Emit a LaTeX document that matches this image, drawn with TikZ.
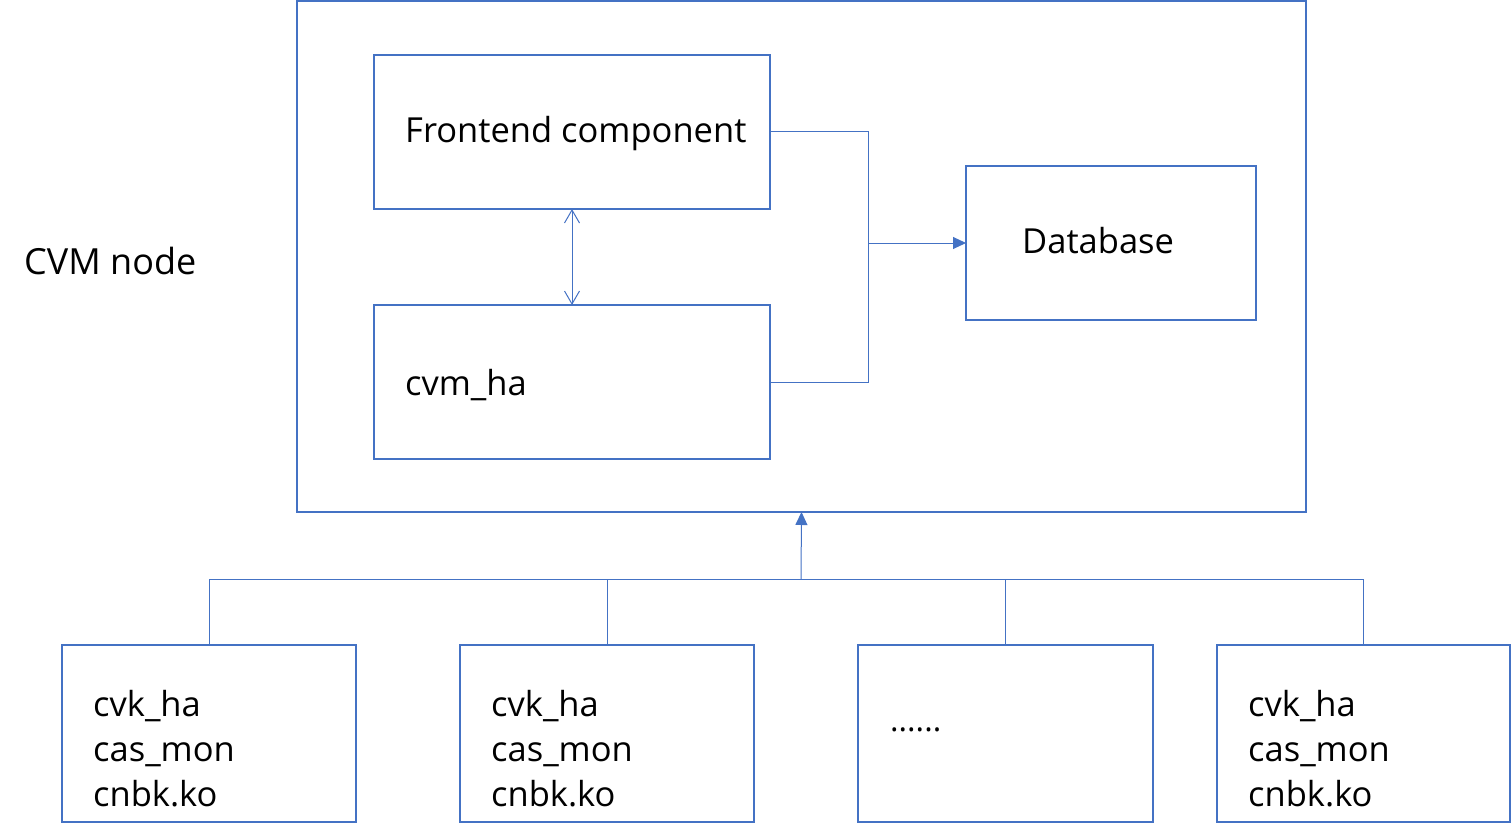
\documentclass[tikz,border=0pt]{standalone}
\usepackage{fontspec}
\setmainfont{Open Sans}
\usetikzlibrary{arrows.meta}
\definecolor{bl}{HTML}{4472C4}
\begin{document}
\begin{tikzpicture}[x=1pt,y=-1pt,
  box/.style={draw=bl,line width=2pt,inner sep=0pt,outer sep=0pt,minimum height=154pt},
  sbox/.style={box,minimum height=177pt},
  conn/.style={draw=bl,line width=1pt},
  txt/.style={anchor=west,inner sep=0pt,font=\fontsize{34.5}{45}\selectfont,align=left},
  barb/.tip={Straight Barb[length=13pt,width=15pt,line width=1pt]},
  tri/.tip={Triangle[length=13pt,width=12pt]}]
\useasboundingbox (0,0) rectangle (1512,837);
\node[box,minimum width=1009pt,minimum height=511pt] (outer) at (801.5,256.5) {};
\node[box,minimum width=396pt] (fe) at (572,132) {};
\node[box,minimum width=396pt] (cvm) at (572,382) {};
\node[box,minimum width=290pt] (db) at (1111,243) {};
\node[txt] (tfe) at (405,134) {Frontend component};
\node[txt] (tcvm) at (405,385) {cvm\_ha};
\node[txt] (tdb) at (1022,241) {Database};
\node[txt,font=\fontsize{36}{45}\selectfont] (tnode) at (24,261) {CVM node};
\node[sbox,minimum width=294pt] (b1) at (209,733.5) {};
\node[sbox,minimum width=294pt] (b2) at (607,733.5) {};
\node[sbox,minimum width=295pt] (b3) at (1005.5,733.5) {};
\node[sbox,minimum width=293pt] (b4) at (1363.5,733.5) {};
\node[txt] (t1) at (93,749) {cvk\_ha\\cas\_mon\\cnbk.ko};
\node[txt] (t2) at (491,749) {cvk\_ha\\cas\_mon\\cnbk.ko};
\node[txt,font=\fontsize{32}{45}\selectfont] (t3) at (890,730) {......};
\node[txt] (t4) at (1248,749) {cvk\_ha\\cas\_mon\\cnbk.ko};
\draw[conn,barb-barb] (fe.south) -- (cvm.north);
\coordinate (j) at (868,243);
\draw[conn] (fe.east) -| (j);
\draw[conn] (cvm.east) -| (j);
\draw[conn,-tri] (j) -- (db.west);
\coordinate (bus) at (801,579);
\draw[conn,-tri] (bus) -- (outer.south);
\draw[conn] (b1.north) -- (b1.north |- bus) -- (b4.north |- bus) -- (b4.north);
\draw[conn] (b2.north) -- (b2.north |- bus);
\draw[conn] (b3.north) -- (b3.north |- bus);
\end{tikzpicture}
\end{document}
